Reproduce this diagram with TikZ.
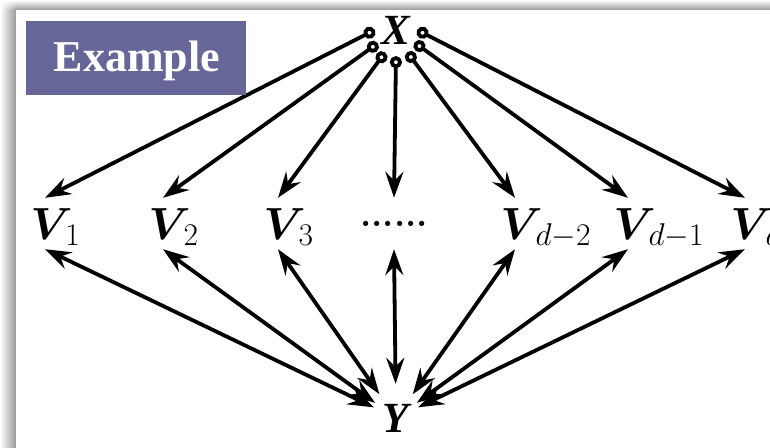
\RequirePackage{fix-cm}
\documentclass[tikz,border=0pt]{standalone}
\usepackage{amsmath}
\usepackage{fontspec}
\newfontfamily\timesf{Liberation Serif}
\usetikzlibrary{arrows.meta,shapes.geometric,shadings}
\definecolor{boxpurple}{HTML}{666699}
\newcommand{\vsym}[1]{\makebox[29pt][l]{$\boldsymbol{V}_{\kern-7pt #1}$}}
\tikzset{
  vnode/.style={inner xsep=2pt, inner ysep=10pt, text height=31pt, text depth=0pt,
    font=\fontsize{45}{54}\selectfont},
  xynode/.style={ellipse, inner sep=0pt, font=\fontsize{43}{50}\selectfont\timesf\bfseries\itshape},
  bigtip/.tip={Stealth[length=26pt,width=18pt,inset=9pt]},
  toparr/.style={line width=3.8pt, {Circle[open,length=12pt,width=12pt]}-bigtip},
  botarr/.style={line width=3.8pt, bigtip-bigtip},
}
\begin{document}
\begin{tikzpicture}[x=1pt,y=-1pt]
\useasboundingbox (0,0) rectangle (770,447);
% shadow frame
\shade[left color=white, right color=black!40] (0,10) rectangle (16,447);
\shade[top color=white, bottom color=black!40] (16,0) rectangle (770,10);
\shade[upper left=white, upper right=white, lower left=white, lower right=black!40] (0,0) rectangle (16,10);
\fill[white] (16,10) rectangle (770,447);
% nodes
\node[xynode, minimum width=42pt, minimum height=52pt] (X) at (396,30) {X};
\node[xynode, minimum width=46pt, minimum height=68pt] (Y) at (396,418) {Y};
\node[vnode] (V1) at (45,223.5) {\vsym{1}};
\node[vnode] (V2) at (163,223.5) {\vsym{2}};
\node[vnode] (V3) at (278,223.5) {\vsym{3}};
\node[vnode] (Vdots) at (394,223.5) {\raisebox{12.5pt}{\fontsize{36}{40}\selectfont\bfseries ......}};
\node[vnode] (Vd2) at (515,223.5) {\vsym{d-2}};
\node[vnode] (Vd1) at (628,223.5) {\vsym{d-1}};
\node[vnode] (Vd) at (745,223.5) {\vsym{d}};
% connectors X -> V
\draw[toparr] (X.180) -- (V1.north);
\draw[toparr] (X.216) -- (V2.north);
\draw[toparr] (X.244) -- (V3.north);
\draw[toparr] (X.270) -- (Vdots.north);
\draw[toparr] (X.297) -- (Vd2.north);
\draw[toparr] (X.326) -- (Vd1.north);
\draw[toparr] (X.0) -- (Vd.north);
% connectors V <-> Y
\draw[botarr] (V1.south) -- (Y);
\draw[botarr] (V2.south) -- (Y);
\draw[botarr] (V3.south) -- (Y);
\draw[botarr] (Vdots.south) -- (Y);
\draw[botarr] (Vd2.south) -- (Y);
\draw[botarr] (Vd1.south) -- (Y);
\draw[botarr] (Vd.south) -- (Y);
% title box
\node[fill=boxpurple, minimum width=220pt, minimum height=74pt, inner sep=0pt] (title) at (136,58) {};
\node[anchor=base, text=white, font=\fontsize{44}{50}\selectfont\timesf\bfseries, inner sep=0pt] (titletext) at (137,71) {Example};
\end{tikzpicture}
\end{document}
